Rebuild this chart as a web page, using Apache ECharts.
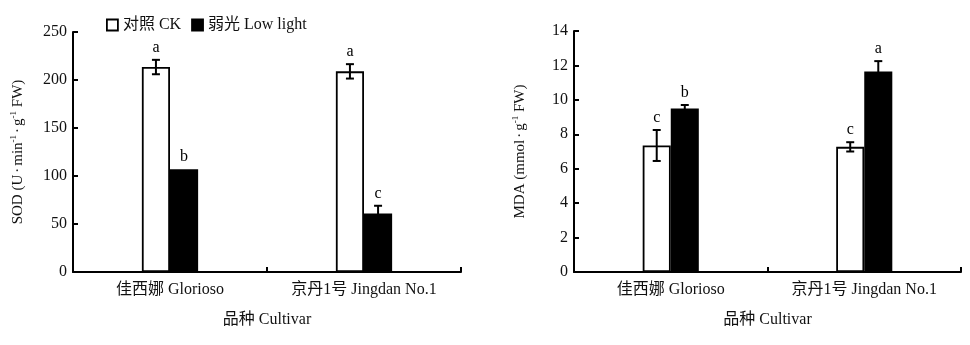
<!DOCTYPE html>
<html><head><meta charset="utf-8">
<script src="https://cdn.jsdelivr.net/npm/echarts@6/dist/echarts.min.js"></script>
<style>html,body{margin:0;padding:0;background:#fff}#c{width:970px;height:345px}</style>
</head><body><div id="c"></div>
<script>
const categories = ['佳西娜 Glorioso', '京丹1号 Jingdan No.1'];
const seriesNames = ['对照 CK', '弱光 Low light'];
const sodCK = [213.5, 209];
const sodLL = [107, 61];
const sodCKErr = [7.5, 7.5];
const sodLLErr = [0, 8];
const sodCKLetters = ['a', 'a'];
const sodLLLetters = ['b', 'c'];
const mdaCK = [7.35, 7.27];
const mdaLL = [9.5, 11.65];
const mdaCKErr = [0.9, 0.27];
const mdaLLErr = [0.2, 0.6];
const mdaCKLetters = ['c', 'c'];
const mdaLLLetters = ['b', 'a'];
const sodTicks = {min: 0, max: 250, interval: 50};
const mdaTicks = {min: 0, max: 14, interval: 2};

const FONT = '"Liberation Serif", "Times New Roman", "Noto Sans CJK SC", serif';
const BAR_FRAC = 0.145;

const chart = echarts.init(document.getElementById('c'));

function errSeries(gi, vals, errs, letters, side) {
  return {
    type: 'custom', xAxisIndex: gi, yAxisIndex: gi, z: 5, silent: true,
    data: vals.map((v, i) => [i, v, errs[i]]),
    renderItem: function (params, api) {
      const idx = api.value(0), v = api.value(1), e = api.value(2);
      const band = api.size([1, 0])[0];
      const bw = band * BAR_FRAC;
      const c = api.coord([idx, v]);
      const x = c[0] + side * bw / 2;
      const top = api.coord([idx, v + e])[1];
      const bot = api.coord([idx, v - e])[1];
      const children = [];
      const st = {stroke: '#000', lineWidth: 2};
      if (e > 0) {
        children.push({type: 'line', shape: {x1: x, y1: top, x2: x, y2: bot}, style: st});
        children.push({type: 'line', shape: {x1: x - 4, y1: top, x2: x + 4, y2: top}, style: st});
        children.push({type: 'line', shape: {x1: x - 4, y1: bot, x2: x + 4, y2: bot}, style: st});
      }
      children.push({type: 'text', style: {text: letters[params.dataIndex], x: x, y: top - 4,
        textAlign: 'center', textVerticalAlign: 'bottom', font: '16px ' + FONT, fill: '#000'}});
      return {type: 'group', children: children};
    }
  };
}

function barSeries(name, gi, vals, fill) {
  return {
    name: name, type: 'bar', xAxisIndex: gi, yAxisIndex: gi,
    data: vals, barWidth: (BAR_FRAC * 100) + '%', barGap: '0%',
    itemStyle: {color: fill, borderColor: '#000', borderWidth: 1.8}
  };
}

function xAx(gi) {
  return {
    type: 'category', gridIndex: gi, data: categories,
    name: '品种 Cultivar', nameLocation: 'middle', nameGap: 40,
    nameTextStyle: {fontFamily: FONT, fontSize: 16, color: '#111'},
    axisLine: {lineStyle: {color: '#000', width: 2}},
    axisTick: {show: true, inside: true, length: 5, lineStyle: {color: '#000', width: 2}},
    axisLabel: {fontFamily: FONT, fontSize: 16, color: '#111', margin: 10},
    splitLine: {show: false}
  };
}

function yAx(gi, t, nameRich, gap) {
  return Object.assign({
    type: 'value', gridIndex: gi,
    name: nameRich, nameLocation: 'middle', nameGap: gap,
    nameTextStyle: {fontFamily: FONT, fontSize: 15, color: '#111',
      rich: {n: {fontFamily: FONT, fontSize: 15, color: '#111', lineHeight: 18},
             d: {fontFamily: FONT, fontSize: 15, color: '#111', lineHeight: 18, padding: [0, 2, 0, 2]},
             s: {fontFamily: FONT, fontSize: 9, color: '#111', lineHeight: 18, verticalAlign: 'top', padding: [0, 0, 8, 0]}}},
    axisLine: {show: true, lineStyle: {color: '#000', width: 2}},
    axisTick: {show: true, inside: true, length: 5, lineStyle: {color: '#000', width: 2}},
    axisLabel: {fontFamily: FONT, fontSize: 16, color: '#111', margin: 6},
    splitLine: {show: false}
  }, t);
}

chart.setOption({
  animation: false,
  textStyle: {fontFamily: FONT},
  legend: {
    left: 101, top: 12, itemWidth: 11, itemHeight: 11, itemGap: 10,
    icon: 'rect', data: seriesNames,
    textStyle: {fontFamily: FONT, fontSize: 16, color: '#111'},
    itemStyle: {borderColor: '#000', borderWidth: 1.8}
  },
  grid: [
    {left: 73, right: 509, top: 32, bottom: 73},
    {left: 574, right: 9, top: 31, bottom: 73}
  ],
  xAxis: [xAx(0), xAx(1)],
  yAxis: [
    yAx(0, sodTicks, '{n|SOD (U}{d|·}{n|min}{s|-1}{d|·}{n|g}{s|-1}{n| FW)}', 46),
    yAx(1, mdaTicks, '{n|MDA (mmol}{d|·}{n|g}{s|-1}{n| FW)}', 45)
  ],
  series: [
    barSeries(seriesNames[0], 0, sodCK, '#fff'),
    barSeries(seriesNames[1], 0, sodLL, '#000'),
    barSeries(seriesNames[0], 1, mdaCK, '#fff'),
    barSeries(seriesNames[1], 1, mdaLL, '#000'),
    errSeries(0, sodCK, sodCKErr, sodCKLetters, -1),
    errSeries(0, sodLL, sodLLErr, sodLLLetters, 1),
    errSeries(1, mdaCK, mdaCKErr, mdaCKLetters, -1),
    errSeries(1, mdaLL, mdaLLErr, mdaLLLetters, 1)
  ]
});
</script></body></html>
